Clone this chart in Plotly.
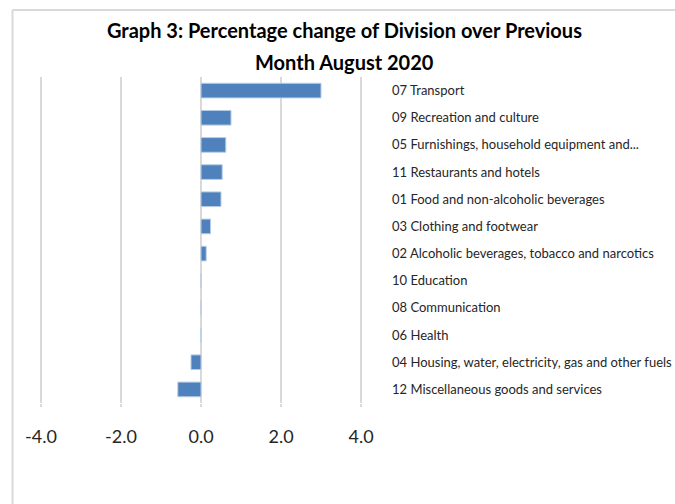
import plotly.graph_objects as go

categories = [
    "07 Transport",
    "09 Recreation and culture",
    "05 Furnishings, household equipment and...",
    "11 Restaurants and hotels",
    "01 Food and non-alcoholic beverages",
    "03 Clothing and footwear",
    "02 Alcoholic beverages, tobacco and narcotics",
    "10 Education",
    "08 Communication",
    "06 Health",
    "04 Housing, water, electricity, gas and other fuels",
    "12 Miscellaneous goods and services",
]
values = [3.0, 0.75, 0.62, 0.53, 0.50, 0.24, 0.13, 0.0, 0.0, 0.0, -0.25, -0.58]
x_ticks = [-4, -2, 0, 2, 4]
x_tick_labels = ["-4.0", "-2.0", "0.0", "2.0", "4.0"]
title_lines = ["Graph 3: Percentage change of Division over Previous", "Month August 2020"]

FONT = "Lato"

# The page margin is removed by the post script, so the figure fills the window.
OFF = 0
W, H = 675 - OFF, 504 - OFF
# plot area on the page: x from 37 to 365 px (-4.1..4.1), y from 77 to 403 px
L = 37 - OFF
R = W - (365 - OFF)
T = 77 - OFF
B = H - (403 - OFF)
pw, ph = W - L - R, H - T - B


def px_x(x):
    return (x - OFF - L) / pw


def px_y(y):
    return (H - B - (y - OFF)) / ph


fig = go.Figure(
    go.Bar(
        x=values,
        y=categories,
        orientation="h",
        marker=dict(color="#4F81BD", line=dict(color="#B9CDE5", width=1)),
    )
)

border = dict(color="#D9D9D9", width=2)

fig.update_layout(
    width=W,
    height=H,
    margin=dict(l=L, r=R, t=T, b=B),
    paper_bgcolor="white",
    plot_bgcolor="white",
    bargap=0.46,
    showlegend=False,
    font=dict(family=FONT, color="#262626"),
    annotations=[
        dict(text="<b>" + title_lines[0] + "</b>", xref="paper", yref="paper",
             x=px_x(344), y=px_y(30), xanchor="center", yanchor="middle",
             showarrow=False, font=dict(family=FONT, size=20, color="black")),
        dict(text="<b>" + title_lines[1] + "</b>", xref="paper", yref="paper",
             x=px_x(344), y=px_y(62), xanchor="center", yanchor="middle",
             showarrow=False, font=dict(family=FONT, size=20, color="black")),
    ],
    shapes=[
        dict(type="line", xref="paper", yref="paper",
             x0=px_x(12.5), x1=px_x(12.5), y0=px_y(520), y1=px_y(10), line=border),
        dict(type="line", xref="paper", yref="paper",
             x0=px_x(12.5), x1=px_x(700), y0=px_y(10), y1=px_y(10), line=border),
    ],
)

fig.update_xaxes(
    range=[-4.1, 4.1],
    tickvals=x_ticks,
    ticktext=x_tick_labels,
    automargin=False,
    showgrid=True,
    gridcolor="#D9D9D9",
    gridwidth=2,
    zeroline=False,
    showline=False,
    ticks="outside",
    ticklen=3,
    tickcolor="#D9D9D9",
    tickwidth=2,
    ticklabelstandoff=14,
    tickfont=dict(family=FONT, size=18, color="#262626"),
)

fig.update_yaxes(
    categoryorder="array",
    categoryarray=categories,
    autorange="reversed",
    side="right",
    automargin=False,
    showgrid=False,
    showline=False,
    zeroline=False,
    ticks="",
    ticklabelstandoff=26,
    tickfont=dict(family=FONT, size=13, color="#262626"),
)

fig.write_html(
    "out.html",
    config={"displayModeBar": False},
    post_script="document.body.style.margin='0';document.body.style.overflow='hidden';",
)
